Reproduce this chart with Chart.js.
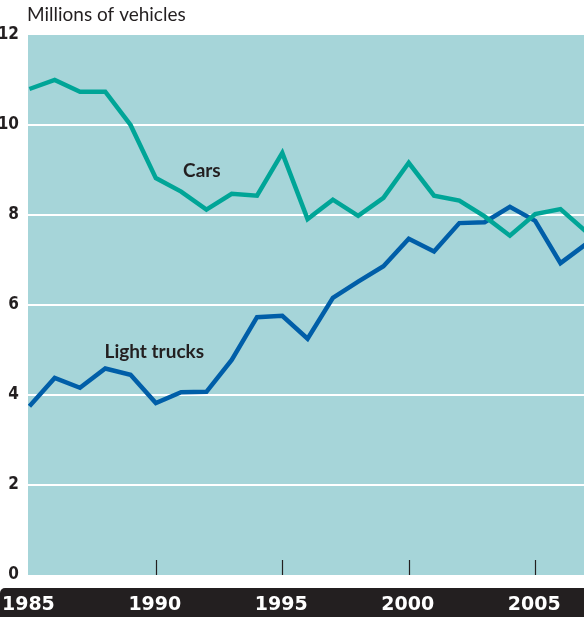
<!DOCTYPE html>
<html>
<head>
<meta charset="utf-8">
<script src="https://cdn.jsdelivr.net/npm/chart.js@4/dist/chart.umd.min.js"></script>
<style>
  html, body { margin: 0; padding: 0; background: #fff; }
  #wrap { width: 584px; height: 617px; }
</style>
</head>
<body>
<div id="wrap"><canvas id="chart"></canvas></div>
<script>
const years = [1985, 1986, 1987, 1988, 1989, 1990, 1991, 1992, 1993, 1994, 1995, 1996,
  1997, 1998, 1999, 2000, 2001, 2002, 2003, 2004, 2005, 2006, 2007];
const cars = [10.8, 11.0, 10.74, 10.74, 10.0, 8.82, 8.52, 8.12, 8.47, 8.43, 9.38, 7.91,
  8.34, 7.98, 8.38, 9.16, 8.43, 8.32, 7.97, 7.54, 8.02, 8.13, 7.64];
const lightTrucks = [3.75, 4.38, 4.16, 4.59, 4.45, 3.82, 4.06, 4.07, 4.78, 5.73, 5.76, 5.25,
  6.16, 6.52, 6.86, 7.47, 7.19, 7.82, 7.84, 8.18, 7.87, 6.93, 7.35];
const yearLabels = [1985, 1990, 1995, 2000, 2005];
const yTicks = [0, 2, 4, 6, 8, 10, 12];

const plotBg = "#a6d5d9";
const ink = "#231f20";

const decor = {
  id: "decor",
  beforeDraw(chart) {
    const { ctx, chartArea: a } = chart;
    ctx.save();
    ctx.fillStyle = plotBg;
    ctx.fillRect(a.left, a.top, a.right - a.left, a.bottom - a.top);
    // black band for the year labels
    ctx.fillStyle = ink;
    ctx.beginPath();
    ctx.roundRect(0, a.bottom + 13, chart.width, chart.height - a.bottom - 13, [5, 0, 0, 0]);
    ctx.fill();
    ctx.restore();
  },
  afterDatasetsDraw(chart) {
    const { ctx, chartArea: a, scales: { x, y } } = chart;
    ctx.save();
    // year ticks inside plot
    ctx.strokeStyle = ink;
    ctx.lineWidth = 1.2;
    yearLabels.slice(1).forEach((yr) => {
      const px = Math.round(x.getPixelForValue(yr)) + 0.5;
      ctx.beginPath();
      ctx.moveTo(px, a.bottom - 15);
      ctx.lineTo(px, a.bottom);
      ctx.stroke();
    });
    // year labels on the band
    ctx.fillStyle = "#ffffff";
    ctx.font = "bold 19px 'DejaVu Sans', sans-serif";
    ctx.textAlign = "center";
    ctx.textBaseline = "middle";
    yearLabels.forEach((yr) => {
      ctx.fillText(String(yr), x.getPixelForValue(yr) - 1, a.bottom + 30);
    });
    // title
    ctx.fillStyle = ink;
    ctx.font = "19px Lato, 'Open Sans', sans-serif";
    ctx.textAlign = "left";
    ctx.fillText("Millions of vehicles", 27, 15);
    // series labels
    ctx.font = "bold 19px Lato, 'Open Sans', sans-serif";
    ctx.textAlign = "center";
    ctx.fillText("Cars", x.getPixelForValue(1991.82), y.getPixelForValue(8.97));
    ctx.fillText("Light trucks", x.getPixelForValue(1989.94), y.getPixelForValue(4.95));
    ctx.restore();
  }
};

new Chart(document.getElementById("chart"), {
  type: "line",
  data: {
    datasets: [
      {
        label: "Cars",
        data: years.map((yr, i) => ({ x: yr, y: cars[i] })),
        borderColor: "#00a597",
        borderWidth: 4.5,
        pointRadius: 0,
        tension: 0,
        borderJoinStyle: "miter"
      },
      {
        label: "Light trucks",
        data: years.map((yr, i) => ({ x: yr, y: lightTrucks[i] })),
        borderColor: "#005ea8",
        borderWidth: 4.5,
        pointRadius: 0,
        tension: 0,
        borderJoinStyle: "miter"
      }
    ]
  },
  options: {
    responsive: true,
    maintainAspectRatio: false,
    animation: false,
    layout: { padding: { top: 35, right: 0, left: 0, bottom: 0 } },
    plugins: { legend: { display: false }, tooltip: { enabled: false } },
    scales: {
      x: {
        type: "linear",
        min: 1984.945,
        max: 2006.93,
        border: { display: false },
        grid: { display: false },
        ticks: { display: false },
        afterFit: (s) => { s.height = 42; }
      },
      y: {
        min: 0,
        max: 12,
        afterBuildTicks: (s) => { s.ticks = yTicks.map((v) => ({ value: v })); },
        afterFit: (s) => { s.width = 28; },
        border: { display: false },
        grid: {
          drawTicks: false,
          lineWidth: 2,
          color: (c) => (c.tick && c.tick.value > 0 && c.tick.value < 12 ? "#ffffff" : "rgba(0,0,0,0)")
        },
        ticks: {
          padding: 9,
          color: ink,
          font: { family: "'Liberation Sans Narrow', 'DejaVu Sans Condensed', sans-serif", size: 17, weight: "bold" }
        }
      }
    }
  },
  plugins: [decor]
});
</script>
</body>
</html>
